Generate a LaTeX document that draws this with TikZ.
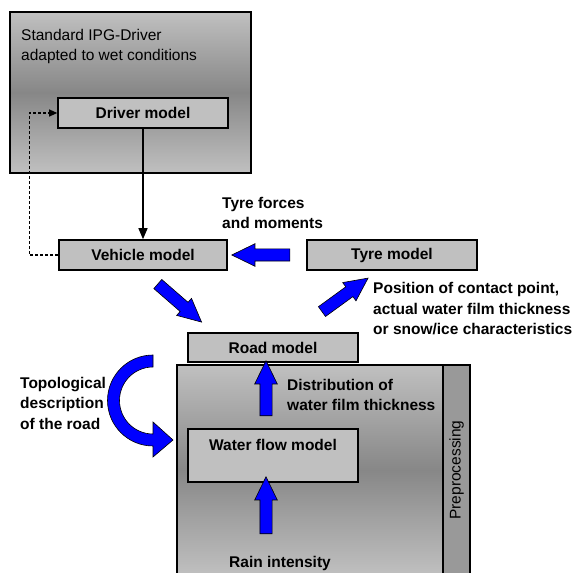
\documentclass[tikz,border=0pt]{standalone}
\usepackage{fontspec}
\setmainfont{Liberation Sans}
\usepackage{xcolor}
\definecolor{boxgray}{RGB}{192,192,192}
\definecolor{darkgray}{RGB}{135,135,135}
\definecolor{stripgray}{RGB}{153,153,153}
\definecolor{arrowblue}{RGB}{0,0,255}
\usepackage{tikz}
\usetikzlibrary{shapes.arrows,arrows.meta,positioning,calc}

\begin{document}
\begin{tikzpicture}[
    x=1pt, y=1pt,
    font=\fontsize{15.5}{20.5}\selectfont,
    model/.style={rectangle, draw=black, line width=1.6pt, fill=boxgray, font=\fontsize{15.5}{20.5}\selectfont\bfseries, inner sep=0pt, minimum height=30, align=center},
    frame/.style={rectangle, draw=black, line width=1.6pt, top color=boxgray, bottom color=boxgray, middle color=darkgray, inner sep=0pt},
    strip/.style={rectangle, draw=black, line width=1.2pt, fill=stripgray, inner sep=0pt},
    bluearrow/.style={single arrow, draw=black, line width=0.6pt, fill=arrowblue, inner xsep=0pt, inner ysep=5.75pt, minimum width=22, single arrow head extend=5.25, single arrow tip angle=52},
    lbl/.style={font=\fontsize{15.5}{20.5}\selectfont\bfseries, align=left, inner sep=0pt},
    arrow/.style={->, >={Triangle[length=11pt, width=9pt]}, line width=1.2pt},
]
\useasboundingbox (0,0) rectangle (577,572);

% Driver block
\node[frame, minimum width=241, minimum height=161] (drvframe) at (130.5, 479.5) {};
\node[align=left, inner sep=0pt, anchor=west] (drvtext) at (21, 525.5) {Standard IPG-Driver\\adapted to wet conditions};
\node[model, minimum width=170] (driver) at (143, 459) {Driver model};

% Preprocessing block
\node[frame, minimum width=293, minimum height=210] (preframe) at (323.5, 102) {};
\node[strip, rotate=90, minimum width=210, minimum height=27] (prep) at (456.5, 102) {Preprocessing};

% Models
\node[model, minimum width=168] (vehicle) at (143, 317) {Vehicle model};
\node[model, minimum width=170] (tyre) at (392, 317) {Tyre model};
\node[model, minimum width=170, minimum height=29] (road) at (273, 224.5) {Road model};
\node[model, minimum width=170, minimum height=53] (water) at (273, 116.5) {Water flow model\\\mbox{}};

% Connectors
\draw[arrow] (driver.south) -- (driver.south |- vehicle.north);
\draw[arrow, line width=1.1pt, dash pattern=on 3pt off 2pt, >={Triangle[length=8pt, width=7pt]}] (vehicle.west) -- ++(-29,0) |- (driver.west);

% Block arrows
\node[bluearrow, rotate=180, minimum height=58] (a1) at (267, 317) {};
\node[bluearrow, rotate=-41, minimum height=58] (a2) at (175, 273) {};
\node[bluearrow, rotate=36, minimum height=57] (a3) at (340, 273.5) {};
\node[bluearrow, rotate=90, minimum height=55] (a4) at (266, 177.5) {};
\node[bluearrow, rotate=90, minimum height=57] (a5) at (266, 60.5) {};

% Curved arrow
\filldraw[fill=arrowblue, draw=black, line width=0.6pt]
  (153, 217) arc[start angle=90, end angle=270, radius=45.5]
  -- (153, 115) -- (173, 132) -- (153, 150) -- (153, 138)
  arc[start angle=270, end angle=90, radius=33.5] -- cycle;

% Labels
\node[lbl, anchor=west] (forces) at (222, 359) {Tyre forces\\and moments};
\node[lbl, anchor=west] (contact) at (373, 263) {Position of contact point,\\actual water film thickness\\or snow/ice characteristics};
\node[lbl, anchor=west] (distrib) at (287, 177) {Distribution of\\water film thickness};
\node[lbl] (rain) at (280, 9) {Rain intensity};
\node[lbl, anchor=west] (topo) at (20, 169) {Topological\\description\\of the road};

\end{tikzpicture}
\end{document}
